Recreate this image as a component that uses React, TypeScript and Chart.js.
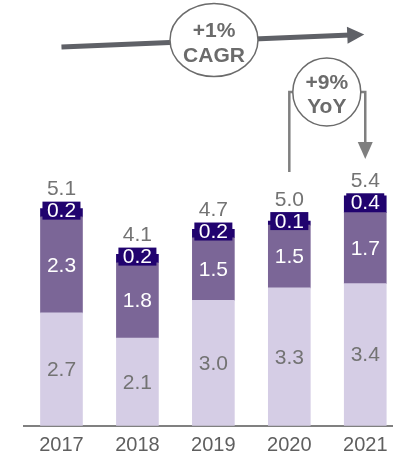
import React, { useEffect, useRef } from "react";
import { Chart, registerables } from "chart.js";

Chart.register(...registerables);

const years = ["2017", "2018", "2019", "2020", "2021"];
const baseValues = [2.7, 2.1, 3.0, 3.3, 3.4];
const midValues = [2.3, 1.8, 1.5, 1.5, 1.7];
const topValues = [0.2, 0.2, 0.2, 0.1, 0.4];
const totals = [5.1, 4.1, 4.7, 5.0, 5.4];
const cagrText = ["+1%", "CAGR"];
const yoyText = ["+9%", "YoY"];

const LIGHT = "#d5cde5";
const MID = "#7b6697";
const DARK = "#21036f";
const GREY_TXT = "#737373";
const FONT = "'Liberation Sans', Arial, sans-serif";

const labelPlugin = {
  id: "labels",
  afterDatasetsDraw(chart: any) {
    const ctx = chart.ctx;
    ctx.save();
    ctx.textAlign = "center";
    ctx.textBaseline = "middle";
    ctx.font = `21px ${FONT}`;
    const metas = [0, 1, 2].map((d) => chart.getDatasetMeta(d));
    metas[0].data.forEach((bar: any, i: number) => {
      const p = bar.getProps(["x", "y", "base"], true);
      ctx.fillStyle = GREY_TXT;
      ctx.fillText(baseValues[i].toFixed(1), p.x, (p.y + p.base) / 2 + 1);
    });
    metas[1].data.forEach((bar: any, i: number) => {
      const p = bar.getProps(["x", "y", "base"], true);
      ctx.fillStyle = "#ffffff";
      ctx.fillText(midValues[i].toFixed(1), p.x, (p.y + p.base) / 2 + 1);
    });
    metas[2].data.forEach((bar: any, i: number) => {
      const p = bar.getProps(["x", "y", "base"], true);
      const cy = (p.y + p.base) / 2 - 2;
      const bw = 38;
      const bh = 18;
      ctx.fillStyle = DARK;
      ctx.fillRect(p.x - bw / 2, cy - bh / 2, bw, bh);
      ctx.fillStyle = "#ffffff";
      ctx.fillText(topValues[i].toFixed(1), p.x, cy + 1);
      const topEdge = Math.min(cy - bh / 2, p.y);
      ctx.fillStyle = GREY_TXT;
      ctx.fillText(totals[i].toFixed(1), p.x, topEdge - 12);
    });
    ctx.restore();
  },
};

function arrowHead(ctx: any, tipX: number, tipY: number, angle: number, len: number, half: number) {
  ctx.save();
  ctx.translate(tipX, tipY);
  ctx.rotate(angle);
  ctx.beginPath();
  ctx.moveTo(0, 0);
  ctx.lineTo(-len, -half);
  ctx.lineTo(-len, half);
  ctx.closePath();
  ctx.fill();
  ctx.restore();
}

const annotationPlugin = {
  id: "annotations",
  afterDraw(chart: any) {
    const ctx = chart.ctx;
    const xs = chart.scales.x;
    const x0 = xs.getPixelForValue(0);
    const x3 = xs.getPixelForValue(3);
    const x4 = xs.getPixelForValue(4);
    ctx.save();
    // CAGR arrow
    const ax0 = x0, ay0 = 47;
    const ax1 = x4 - 1, ay1 = 34.5;
    const ang = Math.atan2(ay1 - ay0, ax1 - ax0);
    ctx.strokeStyle = "#5f6167";
    ctx.fillStyle = "#5f6167";
    ctx.lineWidth = 5;
    ctx.beginPath();
    ctx.moveTo(ax0, ay0);
    ctx.lineTo(ax1 - 14 * Math.cos(ang), ay1 - 14 * Math.sin(ang));
    ctx.stroke();
    arrowHead(ctx, ax1, ay1, ang, 17, 8.5);
    // CAGR ellipse
    ctx.beginPath();
    ctx.ellipse(214, 40, 44, 36.5, 0, 0, Math.PI * 2);
    ctx.fillStyle = "#ffffff";
    ctx.fill();
    ctx.lineWidth = 1.5;
    ctx.strokeStyle = "#6b6b6b";
    ctx.stroke();
    ctx.fillStyle = "#6b6b6b";
    ctx.font = `bold 21px ${FONT}`;
    ctx.textAlign = "center";
    ctx.textBaseline = "middle";
    ctx.fillText(cagrText[0], 214, 31);
    ctx.fillText(cagrText[1], 214, 56);

    // YoY bracket
    const ecx = (x3 + x4) / 2;
    const ecy = 92;
    ctx.strokeStyle = "#7f7f7f";
    ctx.fillStyle = "#7f7f7f";
    ctx.lineWidth = 2.5;
    ctx.beginPath();
    ctx.moveTo(x3, 172);
    ctx.lineTo(x3, ecy);
    ctx.lineTo(ecx, ecy);
    ctx.moveTo(ecx, ecy);
    ctx.lineTo(x4, ecy);
    ctx.lineTo(x4, 145);
    ctx.stroke();
    arrowHead(ctx, x4, 159, Math.PI / 2, 17, 7.5);
    ctx.beginPath();
    ctx.ellipse(ecx - 0.5, ecy, 34, 34, 0, 0, Math.PI * 2);
    ctx.fillStyle = "#ffffff";
    ctx.fill();
    ctx.lineWidth = 1.5;
    ctx.strokeStyle = "#6b6b6b";
    ctx.stroke();
    ctx.fillStyle = "#6b6b6b";
    ctx.fillText(yoyText[0], ecx - 0.5, 83);
    ctx.fillText(yoyText[1], ecx - 0.5, 107);
    ctx.restore();
  },
};

export default function App() {
  const ref = useRef<HTMLCanvasElement | null>(null);
  useEffect(() => {
    if (!ref.current) return;
    const toPts = (arr: number[]) => arr.map((v, i) => ({ x: i, y: v }));
    const chart = new Chart(ref.current, {
      type: "bar",
      data: {
        datasets: [
          { data: toPts(baseValues) as any, backgroundColor: LIGHT, barThickness: 42 },
          { data: toPts(midValues) as any, backgroundColor: MID, barThickness: 42 },
          { data: toPts(topValues) as any, backgroundColor: DARK, barThickness: 42 },
        ],
      },
      options: {
        responsive: false,
        animation: false,
        layout: { padding: { left: 23.5, right: 0, top: 0, bottom: -8.7 } },
        plugins: { legend: { display: false }, tooltip: { enabled: false } },
        scales: {
          x: {
            type: "linear",
            stacked: true,
            offset: false,
            min: -0.5,
            max: 4.356,
            afterBuildTicks: (scale: any) => {
              scale.ticks = years.map((_, i) => ({ value: i }));
            },
            grid: { display: false, drawTicks: false, offset: false },
            border: { display: true, color: "#808080", width: 2 },
            ticks: {
              autoSkip: false,
              maxRotation: 0,
              padding: 7.5,
              color: "#5f5f5f",
              font: { family: FONT, size: 20 },
              callback: (v: any) => years[Number(v)] ?? "",
            },
          },
          y: { stacked: true, display: false, min: 0, max: 10.19 },
        },
      },
      plugins: [labelPlugin, annotationPlugin],
    });
    return () => chart.destroy();
  }, []);
  return (
    <div style={{ position: "absolute", left: 0, top: 0, width: 395, height: 456 }}>
      <canvas ref={ref} width={395} height={456} style={{ display: "block" }} />
    </div>
  );
}
